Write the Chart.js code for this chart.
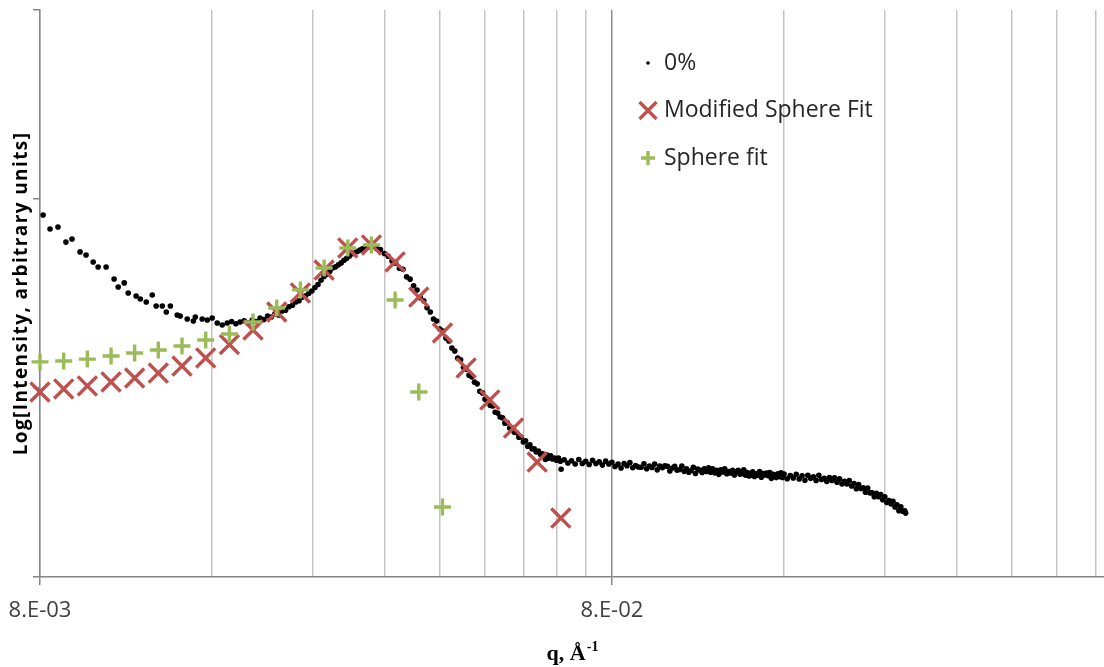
<!DOCTYPE html>
<html>
<head>
<meta charset="utf-8">
<script src="https://cdn.jsdelivr.net/npm/chart.js@4.4.0/dist/chart.umd.min.js"></script>
<style>
  html, body { margin: 0; padding: 0; background: #fff; }
  #wrap { width: 1104px; height: 667px; }
</style>
</head>
<body>
<div id="wrap"><canvas id="chart" width="1104" height="667"></canvas></div>
<script>
// q in 1/Å, y is log10 of intensity (arbitrary units)
const q0 = [
  0.00810, 0.00833, 0.00860, 0.00888, 0.00910, 0.00940, 0.00963, 0.00991, 0.01011, 0.01044,
  0.01078, 0.01096, 0.01123, 0.01141, 0.01178, 0.01198, 0.01227, 0.01257, 0.01277, 0.01309,
  0.01330, 0.01352, 0.01390, 0.01407, 0.01447, 0.01483, 0.01495, 0.01537, 0.01569, 0.01600,
  0.01633, 0.01666,
  0.0170, 0.0173, 0.0176, 0.0179, 0.0182, 0.0185, 0.0188, 0.0191, 0.0194, 0.0197,
  0.0200, 0.0203, 0.0206, 0.0209, 0.0212, 0.0215, 0.0218, 0.0221, 0.0224, 0.0227,
  0.0230, 0.0233, 0.0236, 0.0239, 0.0242, 0.0245, 0.0248, 0.0251, 0.0254, 0.0257,
  0.0260, 0.0263, 0.0266, 0.0269, 0.0272, 0.0275, 0.0278, 0.0281, 0.0284, 0.0287,
  0.0290, 0.0293, 0.0296,
  0.0300, 0.0305, 0.0310, 0.0315, 0.0320, 0.0325, 0.0330, 0.0335, 0.0340, 0.0345,
  0.0350, 0.0355, 0.0360, 0.0365, 0.0370, 0.0375, 0.0380, 0.0385, 0.0390, 0.0395,
  0.0400, 0.0405, 0.0410, 0.0415, 0.0420, 0.0425, 0.0430, 0.0435, 0.0440, 0.0445,
  0.0450, 0.0455, 0.0460, 0.0465, 0.0470, 0.0475, 0.0480, 0.0485, 0.0490, 0.0495,
  0.0500, 0.0505, 0.0510, 0.0515, 0.0520, 0.0525, 0.0530, 0.0535, 0.0540, 0.0545,
  0.0550, 0.0555, 0.0560, 0.0565, 0.0570, 0.0575, 0.0580, 0.0585, 0.0590, 0.0595,
  0.0600, 0.0605, 0.0610, 0.0615, 0.0620, 0.0625, 0.0630, 0.0635, 0.0640, 0.0645,
  0.0650, 0.0652, 0.0612,
  0.066, 0.067, 0.068, 0.069, 0.070, 0.071, 0.072, 0.073, 0.074, 0.075,
  0.076, 0.077, 0.078, 0.079,
  0.080, 0.081, 0.082, 0.083, 0.084, 0.085, 0.086, 0.087, 0.088, 0.089,
  0.090, 0.091, 0.092, 0.093, 0.094, 0.095, 0.096, 0.097, 0.098, 0.099,
  0.100, 0.101, 0.102, 0.103, 0.104, 0.105, 0.106, 0.107, 0.108, 0.109,
  0.110, 0.111, 0.112, 0.113, 0.114, 0.115, 0.116, 0.117, 0.118, 0.119,
  0.120, 0.121, 0.122, 0.123, 0.124, 0.125, 0.126, 0.127, 0.128, 0.129,
  0.130, 0.131, 0.132, 0.133, 0.134, 0.135, 0.136, 0.137, 0.138, 0.139,
  0.140, 0.141, 0.142, 0.143, 0.144, 0.145, 0.146, 0.147, 0.148, 0.149,
  0.150, 0.151, 0.152, 0.153, 0.154, 0.155, 0.156, 0.157, 0.158, 0.159,
  0.160, 0.162, 0.164, 0.166, 0.168, 0.170, 0.172, 0.174, 0.176, 0.178,
  0.180, 0.182, 0.184, 0.186, 0.188, 0.190, 0.192, 0.194, 0.196, 0.198,
  0.200, 0.202, 0.204, 0.206, 0.208, 0.210, 0.212, 0.214, 0.216, 0.218,
  0.220, 0.222, 0.224, 0.226, 0.228, 0.230, 0.232, 0.234, 0.236, 0.238,
  0.240, 0.242, 0.244, 0.246, 0.248, 0.250, 0.252, 0.254, 0.256, 0.258,
  0.260, 0.261
];
const logI0 = [
  1.915, 1.841, 1.852, 1.772, 1.788, 1.720, 1.704, 1.667, 1.640, 1.640,
  1.577, 1.534, 1.556, 1.503, 1.487, 1.471, 1.455, 1.492, 1.434, 1.434,
  1.402, 1.434, 1.386, 1.381, 1.365, 1.354, 1.376, 1.365, 1.360, 1.370,
  1.344, 1.333,
  1.344, 1.352, 1.340, 1.349, 1.356, 1.345, 1.360, 1.352, 1.370, 1.362,
  1.381, 1.376, 1.392, 1.386, 1.408, 1.412, 1.430, 1.438, 1.455, 1.462,
  1.481, 1.488, 1.500, 1.513, 1.532, 1.548, 1.570, 1.590, 1.602, 1.618,
  1.635, 1.641, 1.652, 1.662, 1.676, 1.686, 1.699, 1.710, 1.716, 1.722,
  1.730, 1.737, 1.742,
  1.746, 1.752, 1.739, 1.733, 1.712, 1.697, 1.672, 1.660, 1.634, 1.628,
  1.588, 1.576, 1.541, 1.518, 1.476, 1.461, 1.424, 1.402, 1.365, 1.354,
  1.312, 1.301, 1.264, 1.249, 1.211, 1.196, 1.158, 1.149, 1.110, 1.100,
  1.068, 1.059, 1.031, 1.022, 0.983, 0.974, 0.941, 0.937, 0.909, 0.905,
  0.872, 0.868, 0.846, 0.842, 0.814, 0.816, 0.788, 0.789, 0.766, 0.763,
  0.740, 0.741, 0.714, 0.720, 0.692, 0.699, 0.677, 0.678, 0.661, 0.667,
  0.650, 0.652, 0.640, 0.646, 0.629, 0.641, 0.624, 0.630, 0.618, 0.630,
  0.613, 0.570, 0.622,
  0.620, 0.603, 0.615, 0.598, 0.622, 0.601, 0.612, 0.595, 0.617, 0.600,
  0.609, 0.592, 0.613, 0.598,
  0.607, 0.585, 0.597, 0.577, 0.600, 0.589, 0.605, 0.578, 0.590, 0.582,
  0.581, 0.599, 0.573, 0.587, 0.579, 0.598, 0.567, 0.587, 0.578, 0.588,
  0.586, 0.561, 0.577, 0.586, 0.565, 0.569, 0.587, 0.559, 0.573, 0.554,
  0.562, 0.580, 0.548, 0.571, 0.565, 0.553, 0.573, 0.558, 0.578, 0.554,
  0.573, 0.551, 0.564, 0.543, 0.567, 0.556, 0.573, 0.546, 0.558, 0.550,
  0.565, 0.540, 0.556, 0.565, 0.544, 0.548, 0.567, 0.539, 0.553, 0.534,
  0.539, 0.557, 0.532, 0.546, 0.539, 0.558, 0.528, 0.548, 0.540, 0.550,
  0.536, 0.553, 0.522, 0.544, 0.539, 0.526, 0.546, 0.531, 0.551, 0.527,
  0.545, 0.520, 0.537, 0.524, 0.544, 0.519, 0.536, 0.512, 0.538, 0.522,
  0.530, 0.511, 0.538, 0.516, 0.522, 0.505, 0.526, 0.511, 0.525, 0.501,
  0.519, 0.492, 0.507, 0.492, 0.510, 0.482, 0.495, 0.467, 0.489, 0.468,
  0.472, 0.449, 0.471, 0.445, 0.446, 0.425, 0.443, 0.425, 0.436, 0.409,
  0.424, 0.394, 0.405, 0.387, 0.401, 0.371, 0.382, 0.351, 0.371, 0.348,
  0.350, 0.338
];

const qModified = [
  0.0080, 0.0088, 0.00968, 0.01065, 0.01171, 0.01288, 0.01417, 0.01559, 0.01715, 0.01886,
  0.02075, 0.02282, 0.02511, 0.02762, 0.03038, 0.03342, 0.03676, 0.04044, 0.04448, 0.04893,
  0.05382, 0.05920, 0.06512
];
const logIModified = [
  0.979, 0.995, 1.011, 1.032, 1.053, 1.079, 1.116, 1.159, 1.230, 1.307,
  1.402, 1.503, 1.624, 1.741, 1.757, 1.667, 1.481, 1.291, 1.106, 0.937,
  0.788, 0.608, 0.312
];

const qSphere = [
  0.0080, 0.0088, 0.00968, 0.01065, 0.01171, 0.01288, 0.01417, 0.01559, 0.01715, 0.01886,
  0.02075, 0.02282, 0.02511, 0.02762, 0.03038, 0.03342, 0.03676, 0.04044
];
const logISphere = [
  1.138, 1.143, 1.153, 1.169, 1.185, 1.201, 1.222, 1.254, 1.286, 1.349,
  1.423, 1.519, 1.635, 1.741, 1.757, 1.466, 0.979, 0.370
];

const seriesLabels = ['0%', 'Modified Sphere Fit', 'Sphere fit'];
const xTickValues = [0.008, 0.016, 0.024, 0.032, 0.040, 0.048, 0.056, 0.064, 0.072,
                     0.08, 0.16, 0.24, 0.32, 0.40, 0.48, 0.56];
const xTickLabels = ['8.E-03', '', '', '', '', '', '', '', '',
                     '8.E-02', '', '', '', '', '', ''];

const toPoints = (xs, ys) => xs.map((x, i) => ({ x, y: ys[i] }));

// legend sits inside the plot, top right
const insideLegend = {
  id: 'insideLegend',
  afterDatasetsDraw(chart, args, opts) {
    const ctx = chart.ctx;
    ctx.save();
    ctx.font = opts.font;
    ctx.textBaseline = 'middle';
    chart.data.datasets.forEach((ds, i) => {
      const y = opts.top + i * opts.spacing;
      ctx.fillStyle = ds.backgroundColor;
      ctx.strokeStyle = ds.borderColor;
      ctx.lineWidth = ds.borderWidth;
      Chart.helpers.drawPoint(ctx, {
        pointStyle: ds.pointStyle,
        radius: opts.markerRadius[i],
        borderWidth: ds.borderWidth,
        rotation: 0,
      }, opts.markerX, y);
      ctx.fillStyle = opts.color;
      ctx.fillText(ds.label, opts.textX, y);
    });
    ctx.restore();
  },
};

// axis titles drawn by hand: letter spaced y title, real superscript in x title
const axisTitles = {
  id: 'axisTitles',
  afterDraw(chart, args, opts) {
    const ctx = chart.ctx;
    const area = chart.chartArea;
    ctx.save();
    ctx.fillStyle = '#000';

    ctx.font = 'bold 19px "Open Sans"';
    if ('letterSpacing' in ctx) ctx.letterSpacing = '1.4px';
    ctx.textAlign = 'center';
    ctx.textBaseline = 'middle';
    ctx.translate(opts.yTitleX, (area.top + area.bottom) / 2);
    ctx.rotate(-Math.PI / 2);
    ctx.fillText(opts.yText, 0, 0);
    ctx.setTransform(1, 0, 0, 1, 0, 0);
    if ('letterSpacing' in ctx) ctx.letterSpacing = '0px';

    ctx.textAlign = 'left';
    ctx.textBaseline = 'alphabetic';
    ctx.font = 'bold 22px "Liberation Serif"';
    const wMain = ctx.measureText(opts.xText).width;
    ctx.font = 'bold 14px "Liberation Serif"';
    const wSup = ctx.measureText(opts.xSup).width;
    const x0 = (area.left + area.right) / 2 - (wMain + wSup) / 2;
    ctx.font = 'bold 22px "Liberation Serif"';
    ctx.fillText(opts.xText, x0, opts.xBaseline);
    ctx.font = 'bold 14px "Liberation Serif"';
    ctx.fillText(opts.xSup, x0 + wMain + 1, opts.xBaseline - 9);
    ctx.restore();
  },
};

const isMajor = v => xTickLabels[xTickValues.indexOf(v)] !== '';

new Chart(document.getElementById('chart'), {
  type: 'scatter',
  data: {
    datasets: [
      {
        label: seriesLabels[0],
        data: toPoints(q0, logI0),
        pointStyle: 'circle',
        pointRadius: 2.8,
        backgroundColor: '#000000',
        borderColor: '#000000',
        borderWidth: 0,
        clip: false,
        order: 3,
      },
      {
        label: seriesLabels[1],
        data: toPoints(qModified, logIModified),
        pointStyle: 'crossRot',
        pointRadius: 13.5,
        backgroundColor: '#C0504D',
        borderColor: '#C0504D',
        borderWidth: 3.4,
        clip: false,
        order: 2,
      },
      {
        label: seriesLabels[2],
        data: toPoints(qSphere, logISphere),
        pointStyle: 'cross',
        pointRadius: 8.5,
        backgroundColor: '#9BBB59',
        borderColor: '#9BBB59',
        borderWidth: 3.4,
        clip: false,
        order: 1,
      },
    ],
  },
  options: {
    responsive: false,
    devicePixelRatio: 1,
    animation: false,
    layout: { autoPadding: false, padding: { top: 10, right: 0, bottom: 0, left: 0 } },
    plugins: {
      legend: { display: false },
      tooltip: { enabled: false },
      insideLegend: {
        top: 63, spacing: 47.5, markerX: 648, textX: 664,
        markerRadius: [1.8, 12, 7],
        font: '23px "Open Sans"', color: '#262626',
      },
      axisTitles: {
        yText: 'Log[Intensity, arbitrary units]', yTitleX: 22,
        xText: 'q, Å', xSup: '-1', xBaseline: 660,
      },
    },
    scales: {
      x: {
        type: 'logarithmic',
        min: 0.008,
        max: 0.58,
        afterBuildTicks: scale => { scale.ticks = xTickValues.map(v => ({ value: v })); },
        afterFit: scale => {
          scale.height = 90;
          scale.paddingLeft = 0;
          scale.paddingRight = 0;
        },
        ticks: {
          autoSkip: false,
          maxRotation: 0,
          padding: 13,
          color: '#404040',
          font: { family: 'Open Sans', size: 22 },
          callback: (v, i) => xTickLabels[i],
        },
        grid: {
          color: c => (c.tick && c.tick.value === 0.08 ? '#8f8f8f' : '#c4c4c4'),
          lineWidth: 1.5,
          drawTicks: true,
          tickLength: 8,
          tickColor: c => (c.tick && isMajor(c.tick.value) ? '#868686' : 'rgba(0,0,0,0)'),
        },
        border: { color: '#868686', width: 1.5 },
      },
      y: {
        min: 0,
        max: 3,
        afterFit: scale => {
          scale.width = 40;
          scale.paddingTop = 0;
          scale.paddingBottom = 0;
        },
        ticks: { display: false, stepSize: 1 },
        grid: { drawOnChartArea: false, drawTicks: true, tickLength: 7, color: '#868686', lineWidth: 1.5 },
        border: { color: '#868686', width: 1.5 },
      },
    },
  },
  plugins: [insideLegend, axisTitles],
});
</script>
</body>
</html>
